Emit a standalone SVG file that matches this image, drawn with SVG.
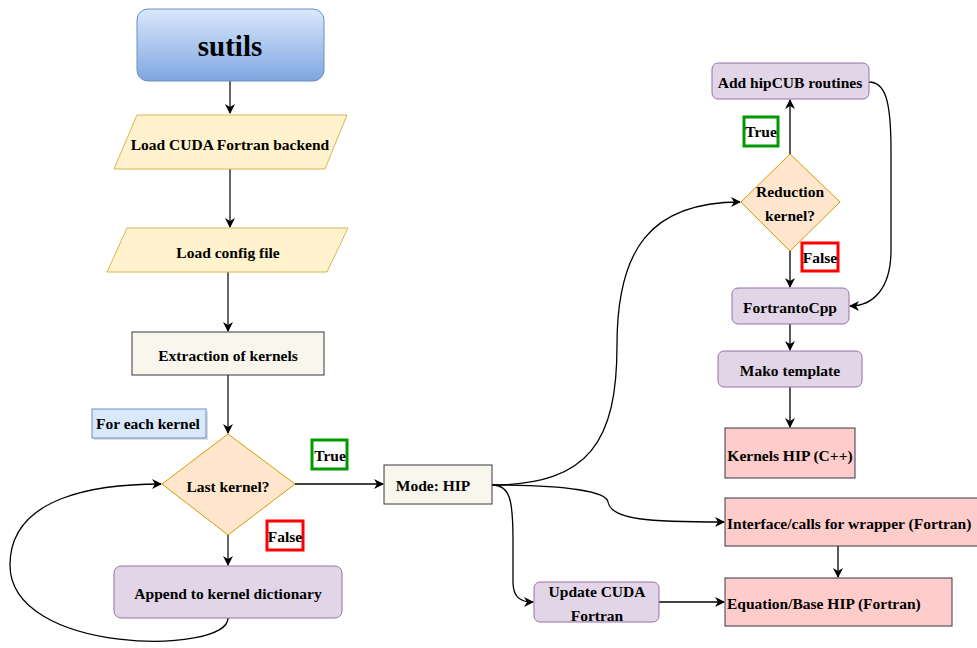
<svg xmlns="http://www.w3.org/2000/svg" width="977" height="648" viewBox="0 0 977 648">
<defs>
<linearGradient id="gBlue" x1="0" y1="0" x2="0" y2="1">
<stop offset="0" stop-color="#dae8fc"/>
<stop offset="1" stop-color="#7ea6e0"/>
</linearGradient>
<marker id="arr" viewBox="0 0 10 10" refX="9" refY="5" markerWidth="10" markerHeight="10" markerUnits="userSpaceOnUse" orient="auto">
<path d="M0,0 L10,5 L0,10 L3,5 Z" fill="#000"/>
</marker>
</defs>
<style>
text{font-family:"Liberation Serif","Times New Roman",serif;font-weight:bold;font-size:15.5px;fill:#000;text-anchor:middle;dominant-baseline:central}
.io{fill:#fff2cc;stroke:#d6b656;stroke-width:1}
.proc{fill:#f9f7ed;stroke:#36393d;stroke-width:1}
.purple{fill:#e1d5e7;stroke:#9673a6;stroke-width:1}
.dec{fill:#ffe6cc;stroke:#d79b00;stroke-width:1}
.red{fill:#ffcccc;stroke:#36393d;stroke-width:1}
.lblT{fill:#fff;stroke:#009900;stroke-width:3}
.lblF{fill:#fff;stroke:#ff0000;stroke-width:3}
.c{fill:none;stroke:#000;stroke-width:1.3;marker-end:url(#arr)}
.cs{fill:none;stroke:#333;stroke-width:1.5;marker-end:url(#arr)}
</style>
<g id="connectors">
<path class="cs" d="M230,81 L230,113"/>
<path class="cs" d="M230,169 L230,227"/>
<path class="cs" d="M228,272 L228,331"/>
<path class="cs" d="M228,375 L228,433"/>
<path class="cs" d="M228,535 L228,565"/>
<path class="c" d="M295,484 L383,484"/>
<path class="c" d="M228,618 C228,655 10,655 10,565 C10,495 100,484 161,484"/>
<path class="c" d="M492,485 C590,485 617,440 617,345 C617,250 650,202 740,202"/>
<path class="c" d="M492,485 C570,485 607,492 608,502 C611,520 650,522 724,522"/>
<path class="c" d="M492,485 C510,485 513,500 513,540 L513,582 C513,597 520,602 533,602"/>
<path class="c" d="M659,602 L724,602"/>
<path class="c" d="M838,546 L838,577"/>
<path class="c" d="M790,154 L790,100"/>
<path class="c" d="M790,251 L790,287"/>
<path class="c" d="M869,82 C885,82 891,100 891,150 L891,250 C891,290 872,306 850,306"/>
<path class="c" d="M790,324 L790,350"/>
<path class="c" d="M790,387 L790,427"/>
</g>
<g id="sutils">
<rect x="137" y="9" width="187" height="72" rx="11" fill="url(#gBlue)" stroke="#6c8ebf"/>
<text x="230" y="46" style="font-size:29px">sutils</text>
</g>
<g id="load-cuda">
<polygon class="io" points="137,115 347,115 325,169 114,169"/>
<text x="230" y="144">Load CUDA Fortran backend</text>
</g>
<g id="load-config">
<polygon class="io" points="127,228 348,228 327,272 107,272"/>
<text x="228" y="252">Load config file</text>
</g>
<g id="extraction">
<rect class="proc" x="132" y="332" width="192" height="43"/>
<text x="228" y="355">Extraction of kernels</text>
</g>
<g id="for-each">
<rect x="94" y="411" width="114" height="29" fill="#c8c8c8" opacity="0.6"/>
<rect x="92" y="409" width="114" height="29" fill="#dae8fc" stroke="#6c8ebf"/>
<text x="148" y="423">For each kernel</text>
</g>
<g id="last-kernel">
<polygon class="dec" points="228,434 295,484 228,535 162,484"/>
<text x="228" y="486">Last kernel?</text>
</g>
<g id="true1">
<rect class="lblT" x="312" y="440" width="35" height="29"/>
<text x="330" y="455">True</text>
</g>
<g id="false1">
<rect class="lblF" x="267" y="521" width="36" height="29"/>
<text x="285" y="536">False</text>
</g>
<g id="append">
<rect class="purple" x="114" y="566" width="228" height="52" rx="7"/>
<text x="228" y="593">Append to kernel dictionary</text>
</g>
<g id="mode-hip">
<rect class="proc" x="384" y="465" width="108" height="39"/>
<text x="433" y="485">Mode: HIP</text>
</g>
<g id="reduction">
<polygon class="dec" points="790,154 840,202 790,251 741,202"/>
<text x="790" y="191">Reduction</text>
<text x="790" y="215">kernel?</text>
</g>
<g id="true2">
<rect class="lblT" x="744" y="117" width="34" height="29"/>
<text x="761" y="131">True</text>
</g>
<g id="false2">
<rect class="lblF" x="802" y="243" width="36" height="28"/>
<text x="820" y="257">False</text>
</g>
<g id="hipcub">
<rect class="purple" x="712" y="63" width="157" height="36" rx="6"/>
<text x="790" y="82">Add hipCUB routines</text>
</g>
<g id="fortrantocpp">
<rect class="purple" x="732" y="288" width="117" height="36" rx="6"/>
<text x="790" y="307">FortrantoCpp</text>
</g>
<g id="mako">
<rect class="purple" x="718" y="351" width="144" height="36" rx="6"/>
<text x="790" y="370">Mako template</text>
</g>
<g id="kernels-hip">
<rect class="red" x="725" y="428" width="130" height="50"/>
<text x="790" y="455">Kernels HIP (C++)</text>
</g>
<g id="interface">
<rect class="red" x="725" y="498" width="262" height="48"/>
<text x="727" y="523" style="text-anchor:start">Interface/calls for wrapper (Fortran)</text>
</g>
<g id="equation">
<rect class="red" x="725" y="578" width="227" height="48"/>
<text x="727" y="603" style="text-anchor:start">Equation/Base HIP (Fortran)</text>
</g>
<g id="update-cuda">
<rect class="purple" x="534" y="582" width="125" height="40" rx="6"/>
<text x="597" y="591">Update CUDA</text>
<text x="597" y="615">Fortran</text>
</g>
</svg>
